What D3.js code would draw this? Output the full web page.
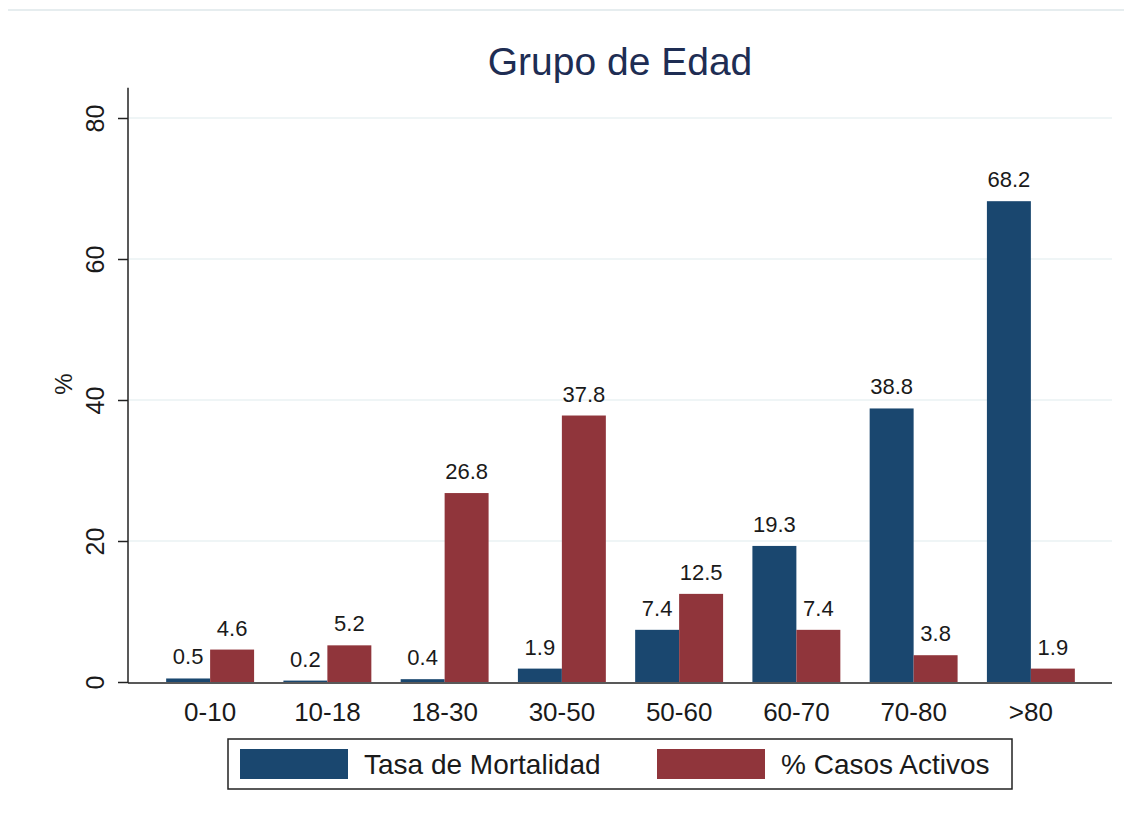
<!DOCTYPE html>
<html>
<head>
    <meta charset="utf-8">
    <style>
        body { margin: 0; background: #fff; }
        svg { font-family: Arial, 'Liberation Sans', sans-serif; }
    </style>
</head>
<body>
<svg width="1124" height="822"></svg>

<script src="https://d3js.org/d3.v7.min.js"></script>
<script>
    // data
    const groups = ["0-10", "10-18", "18-30", "30-50", "50-60", "60-70", "70-80", ">80"];
    const mortalidad = [0.5, 0.2, 0.4, 1.9, 7.4, 19.3, 38.8, 68.2];
    const casosActivos = [4.6, 5.2, 26.8, 37.8, 12.5, 7.4, 3.8, 1.9];
    const seriesNames = ["Tasa de Mortalidad", "% Casos Activos"];
    const yTicks = [0, 20, 40, 60, 80];

    const colors = ["#1a476f", "#90353b"];
    const svg = d3.select("svg");

    // top hairline of the page frame
    svg.append("line")
        .attr("x1", 8).attr("x2", 1124)
        .attr("y1", 10).attr("y2", 10)
        .style("stroke", "#e6edef").style("stroke-width", 2);

    let y = d3.scaleLinear().domain([0, 80]).range([682, 118]);
    let x = d3.scaleBand().domain(groups).range([151.5, 1089.5]).paddingInner(0.25).paddingOuter(0.125);
    let xs = d3.scaleBand().domain([0, 1]).range([0, x.bandwidth()]);

    // gridlines
    svg.append("g")
        .selectAll("line")
        .data(yTicks.slice(1))
        .join("line")
        .attr("x1", 129).attr("x2", 1112)
        .attr("y1", d => y(d)).attr("y2", d => y(d))
        .style("stroke", "#eaf2f3").style("stroke-width", 1.5);

    // bars
    const table = groups.map((g, i) => ({ g: g, vals: [mortalidad[i], casosActivos[i]] }));

    let grp = svg.append("g")
        .selectAll("g")
        .data(table)
        .join("g")
        .attr("transform", d => "translate(" + x(d.g) + ",0)");

    grp.selectAll("rect")
        .data(d => d.vals.map((v, k) => ({ v: v, k: k })))
        .join("rect")
        .attr("x", d => xs(d.k))
        .attr("width", xs.bandwidth())
        .attr("y", d => y(d.v))
        .attr("height", d => y(0) - y(d.v))
        .style("fill", d => colors[d.k]);

    grp.selectAll("text")
        .data(d => d.vals.map((v, k) => ({ v: v, k: k })))
        .join("text")
        .attr("x", d => xs(d.k) + xs.bandwidth() / 2)
        .attr("y", d => y(d.v) - 14)
        .attr("text-anchor", "middle")
        .style("font-size", "22px")
        .style("fill", "#1a1a1a")
        .text(d => d3.format(".1f")(d.v));

    // y axis
    let yAxis = d3.axisLeft(y).tickValues(yTicks).tickSize(10).tickSizeOuter(0).tickFormat(d3.format("d"));
    let ya = svg.append("g").attr("transform", "translate(128,0)").call(yAxis);
    ya.select(".domain").remove();
    ya.selectAll(".tick line").style("stroke", "#222").style("stroke-width", 1.5);
    ya.selectAll(".tick text")
        .attr("x", 0).attr("dy", 0)
        .attr("transform", "translate(-24,0) rotate(-90)")
        .attr("text-anchor", "middle")
        .style("font-size", "25px")
        .style("font-family", "Arial, 'Liberation Sans', sans-serif")
        .style("fill", "#1a1a1a");

    svg.append("line")
        .attr("x1", 128).attr("x2", 128)
        .attr("y1", y(0) + 1).attr("y2", y(84.3))
        .style("stroke", "#222").style("stroke-width", 1.5);

    // x axis
    svg.append("line")
        .attr("x1", 128).attr("x2", 1112)
        .attr("y1", y(0) + 1).attr("y2", y(0) + 1)
        .style("stroke", "#222").style("stroke-width", 1.5);

    svg.append("g")
        .selectAll("text")
        .data(groups)
        .join("text")
        .attr("x", d => x(d) + x.bandwidth() / 2)
        .attr("y", 721)
        .attr("text-anchor", "middle")
        .style("font-size", "26px")
        .style("fill", "#1a1a1a")
        .text(d => d);

    // y label
    svg.append("text")
        .attr("transform", "translate(72,384) rotate(-90)")
        .attr("text-anchor", "middle")
        .style("font-size", "24px")
        .style("fill", "#1a1a1a")
        .text("%");

    // title
    svg.append("text")
        .attr("x", 620).attr("y", 75)
        .attr("text-anchor", "middle")
        .style("font-size", "39px")
        .style("fill", "#1e2d53")
        .text("Grupo de Edad");

    // legend
    let legend = svg.append("g");
    legend.append("rect")
        .attr("x", 228).attr("y", 739)
        .attr("width", 784).attr("height", 50)
        .style("fill", "#fff").style("stroke", "#222").style("stroke-width", 1.5);

    const legendX = [240, 657];
    seriesNames.forEach((name, k) => {
        legend.append("rect")
            .attr("x", legendX[k]).attr("y", 749)
            .attr("width", 108).attr("height", 30)
            .style("fill", colors[k]);
        legend.append("text")
            .attr("x", legendX[k] + 124).attr("y", 774)
            .style("font-size", "28px")
            .style("fill", "#1a1a1a")
            .text(name);
    });
</script>
</body>
</html>
